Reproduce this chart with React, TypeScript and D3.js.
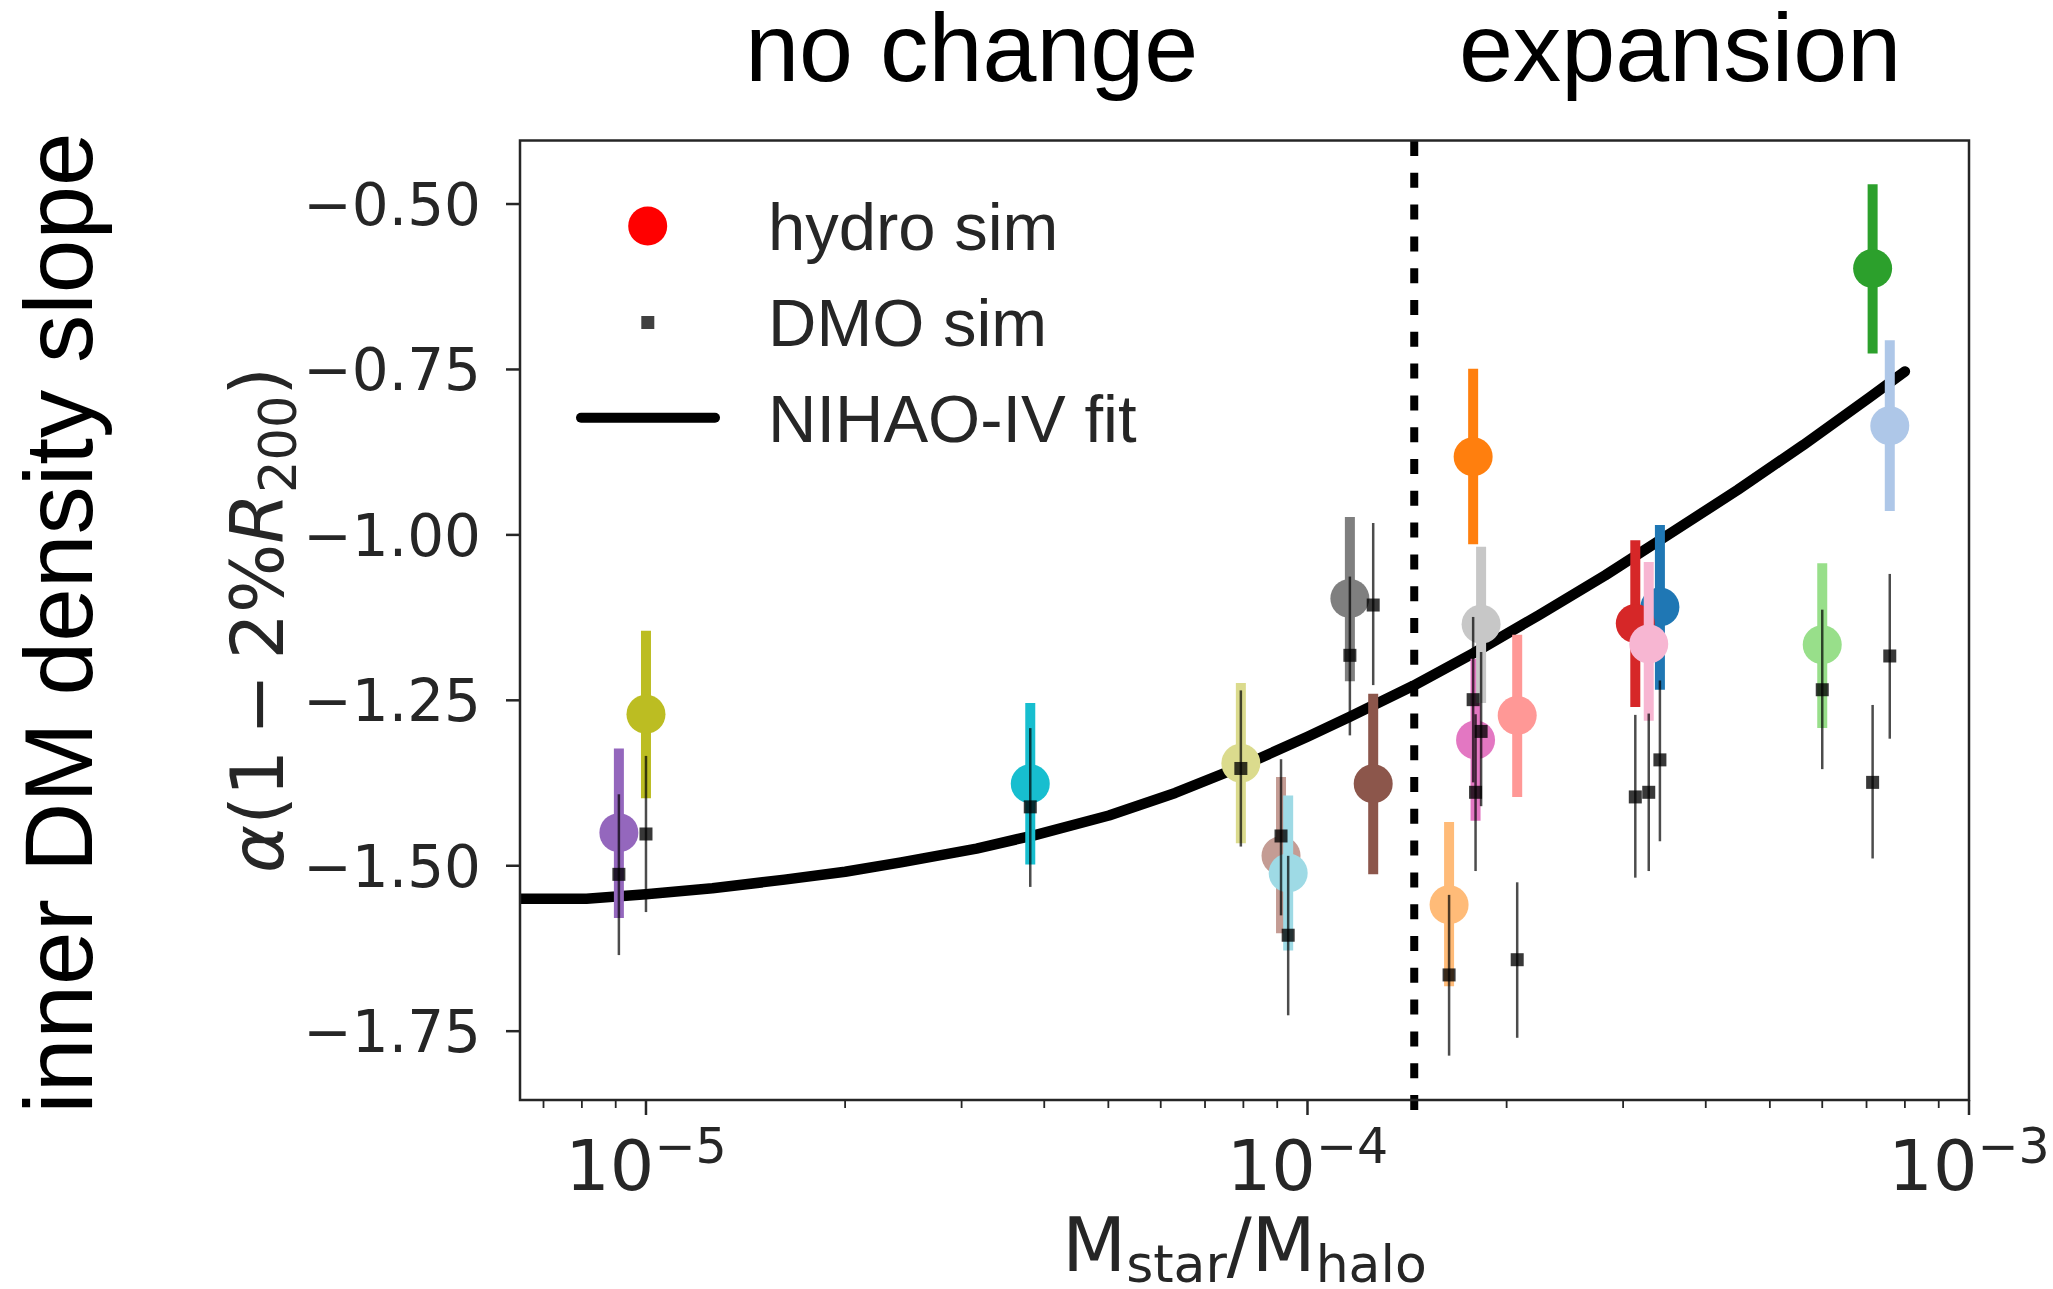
import React from 'react';
import * as d3 from 'd3';

// ---------------- data ----------------
const galaxyColors = [
  '#1f77b4', '#aec7e8', '#ff7f0e', '#ffbb78', '#2ca02c', '#98df8a', '#d62728',
  '#ff9896', '#9467bd', '#8c564b', '#c49c94', '#e377c2', '#f7b6d2', '#7f7f7f',
  '#c7c7c7', '#bcbd22', '#dbdb8d', '#17becf', '#9edae5',
];
const massRatio = [
  3.41e-4, 7.59e-4, 1.78e-4, 1.637e-4, 7.15e-4, 6.0e-4, 3.13e-4,
  2.075e-4, 9.1e-6, 1.257e-4, 9.12e-5, 1.795e-4, 3.28e-4, 1.159e-4,
  1.83e-4, 1.0e-5, 7.93e-5, 3.81e-5, 9.35e-5,
];
const hydroSlope = [
  -1.109, -0.835, -0.882, -1.559, -0.5975, -1.166, -1.134,
  -1.273, -1.450, -1.376, -1.485, -1.310, -1.165, -1.096,
  -1.135, -1.271, -1.345, -1.376, -1.511,
];
const hydroUpper = [
  -0.985, -0.706, -0.749, -1.434, -0.470, -1.043, -1.008,
  -1.151, -1.323, -1.240, -1.366, -1.187, -1.041, -0.973,
  -1.018, -1.145, -1.224, -1.254, -1.394,
];
const hydroLower = [
  -1.234, -0.964, -1.014, -1.682, -0.726, -1.292, -1.260,
  -1.396, -1.579, -1.513, -1.602, -1.432, -1.281, -1.221,
  -1.254, -1.398, -1.466, -1.498, -1.628,
];
const dmoSlope = [
  -1.340, -1.183, -1.249, -1.665, -1.374, -1.234, -1.396,
  -1.642, -1.513, -1.106, -1.455, -1.389, -1.389, -1.182,
  -1.297, -1.452, -1.353, -1.411, -1.605,
];
const dmoUpper = [
  -1.220, -1.059, -1.124, -1.544, -1.257, -1.113, -1.272,
  -1.525, -1.392, -0.982, -1.339, -1.271, -1.270, -1.063,
  -1.177, -1.334, -1.235, -1.292, -1.485,
];
const dmoLower = [
  -1.463, -1.308, -1.374, -1.787, -1.489, -1.354, -1.518,
  -1.760, -1.635, -1.227, -1.575, -1.508, -1.508, -1.303,
  -1.410, -1.570, -1.471, -1.532, -1.726,
];
const fitMassRatio = [
  6.45e-6, 8.13e-6, 1.0e-5, 1.26e-5, 1.62e-5, 2.0e-5, 2.43e-5, 3.16e-5,
  3.86e-5, 5.01e-5, 6.31e-5, 7.94e-5, 1.0e-4, 1.159e-4, 1.445e-4, 1.78e-4,
  2.24e-4, 2.82e-4, 3.41e-4, 4.47e-4, 5.62e-4, 7.08e-4, 8.0e-4,
];
const fitSlope = [
  -1.550, -1.550, -1.543, -1.534, -1.521, -1.509, -1.495, -1.474,
  -1.454, -1.424, -1.390, -1.350, -1.305, -1.275, -1.228, -1.179,
  -1.121, -1.061, -1.008, -0.932, -0.864, -0.792, -0.753,
];
const transitionRatio = 1.45e-4;
const yTicks = [-0.5, -0.75, -1.0, -1.25, -1.5, -1.75];
const yTickLabels = ['\u22120.50', '\u22120.75', '\u22121.00', '\u22121.25', '\u22121.50', '\u22121.75'];
const xMajorTicks = [1e-5, 1e-4, 1e-3];
const xTickExponents = ['\u22125', '\u22124', '\u22123'];
const regionLabels = ['no change', 'expansion'];
const legendLabels = ['hydro sim', 'DMO sim', 'NIHAO-IV fit'];

// ---------------- layout ----------------
const W = 2053;
const H = 1289;
const L = 520, R = 1969, T = 140.5, B = 1100;
const X_MIN = 6.45e-6, X_MAX = 1e-3;
const Y_MIN = -1.854, Y_MAX = -0.404;
const AX = '#262626';
const DV = "'DejaVu Sans', sans-serif";
const HV = "'Liberation Sans', Arial, Helvetica, sans-serif";
const regionLabelX = [971.7, 1680];

export default function App() {
  const x = d3.scaleLog().domain([X_MIN, X_MAX]).range([L, R]);
  const y = d3.scaleLinear().domain([Y_MIN, Y_MAX]).range([B, T]);

  const fitLine = d3
    .line<number>()
    .x((_, i) => x(fitMassRatio[i]))
    .y((d) => y(d))(fitSlope) as string;

  const minorTicks: number[] = [];
  for (let e = -6; e <= -4; e++) {
    for (let k = 2; k <= 9; k++) {
      const v = k * Math.pow(10, e);
      if (v >= X_MIN && v <= X_MAX) minorTicks.push(v);
    }
  }

  const xT = x(transitionRatio);
  const idx = galaxyColors.map((_, i) => i);

  return (
    <svg
      width={W}
      height={H}
      style={{ position: 'absolute', left: 0, top: 0, display: 'block', background: '#fff' }}
    >
      <defs>
        <clipPath id="plotclip">
          <rect x={L} y={T} width={R - L} height={B - T} />
        </clipPath>
      </defs>
      <rect x={0} y={0} width={W} height={H} fill="#fff" />

      {/* region labels */}
      {regionLabels.map((t, i) => (
        <text key={t} x={regionLabelX[i]} y={81} fontFamily={HV} fontSize={97} textAnchor="middle" fill="#000">
          {t}
        </text>
      ))}

      {/* outer y label */}
      <text
        transform="translate(91.7,623) rotate(-90)"
        fontFamily={HV}
        fontSize={96.5}
        textAnchor="middle"
        fill="#000"
      >
        inner DM density slope
      </text>

      {/* fit line */}
      <path
        d={fitLine}
        fill="none"
        stroke="#000"
        strokeWidth={10.5}
        strokeLinecap="round"
        strokeLinejoin="round"
        clipPath="url(#plotclip)"
      />

      {/* transition line */}
      <line x1={xT} x2={xT} y1={141} y2={1112} stroke="#000" strokeWidth={8} strokeDasharray="15 16.8" />

      {/* hydro sims */}
      {idx.map((i) => (
        <g key={'h' + i}>
          <line
            x1={x(massRatio[i])}
            x2={x(massRatio[i])}
            y1={y(hydroUpper[i])}
            y2={y(hydroLower[i])}
            stroke={galaxyColors[i]}
            strokeWidth={10}
          />
          <circle cx={x(massRatio[i])} cy={y(hydroSlope[i])} r={19.5} fill={galaxyColors[i]} />
        </g>
      ))}

      {/* DMO sims */}
      {idx.map((i) => (
        <g key={'d' + i}>
          <line
            x1={x(massRatio[i])}
            x2={x(massRatio[i])}
            y1={y(dmoUpper[i])}
            y2={y(dmoLower[i])}
            stroke="#000"
            strokeOpacity={0.7}
            strokeWidth={2.5}
          />
          <rect
            x={x(massRatio[i]) - 6.5}
            y={y(dmoSlope[i]) - 6.5}
            width={13}
            height={13}
            fill="#000"
            fillOpacity={0.78}
          />
        </g>
      ))}

      {/* legend */}
      <circle cx={647.7} cy={226} r={19.5} fill="#ff0000" />
      <rect x={641.3} y={316} width={13} height={13} fill="#000" fillOpacity={0.75} />
      <line x1={581} x2={715} y1={417.7} y2={417.7} stroke="#000" strokeWidth={10} strokeLinecap="round" />
      {legendLabels.map((t, i) => (
        <text key={t} x={768} y={250 + i * 95.9} fontFamily={HV} fontSize={67} fill={AX}>
          {t}
        </text>
      ))}

      {/* frame */}
      <rect x={L} y={T} width={R - L} height={B - T} fill="none" stroke={AX} strokeWidth={2.5} />

      {/* y ticks */}
      {yTicks.map((v, i) => (
        <g key={'yt' + i}>
          <line x1={L - 14} x2={L} y1={y(v)} y2={y(v)} stroke={AX} strokeWidth={2.5} />
          <text x={481} y={y(v) + 21} fontFamily={DV} fontSize={58} textAnchor="end" fill={AX}>
            {yTickLabels[i]}
          </text>
        </g>
      ))}

      {/* x ticks */}
      {minorTicks.map((v, i) => (
        <line key={'mn' + i} x1={x(v)} x2={x(v)} y1={B} y2={B + 8} stroke={AX} strokeWidth={1.8} />
      ))}
      {xMajorTicks.map((v, i) => (
        <g key={'xt' + i}>
          <line x1={x(v)} x2={x(v)} y1={B} y2={B + 15} stroke={AX} strokeWidth={2.5} />
          <text x={x(v)} y={1190} fontFamily={DV} fontSize={70} textAnchor="middle" fill={AX}>
            10
            <tspan fontSize={49} dy={-26.7}>
              {xTickExponents[i]}
            </tspan>
          </text>
        </g>
      ))}

      {/* x label */}
      <text x={(L + R) / 2} y={1271} fontFamily={DV} fontSize={74} textAnchor="middle" fill={AX}>
        M
        <tspan fontSize={52} dy={11}>star</tspan>
        <tspan dy={-11}>/M</tspan>
        <tspan fontSize={52} dy={11}>halo</tspan>
      </text>

      {/* y label */}
      <text
        transform="translate(283,620) rotate(-90)"
        fontFamily={DV}
        fontSize={73}
        textAnchor="middle"
        fill={AX}
      >
        <tspan fontStyle="italic">{'\u03b1'}</tspan>
        <tspan>{'(1\u2009\u2212\u20092%'}</tspan>
        <tspan fontStyle="italic">R</tspan>
        <tspan fontSize={51} dy={13}>200</tspan>
        <tspan dy={-13}>)</tspan>
      </text>
    </svg>
  );
}
